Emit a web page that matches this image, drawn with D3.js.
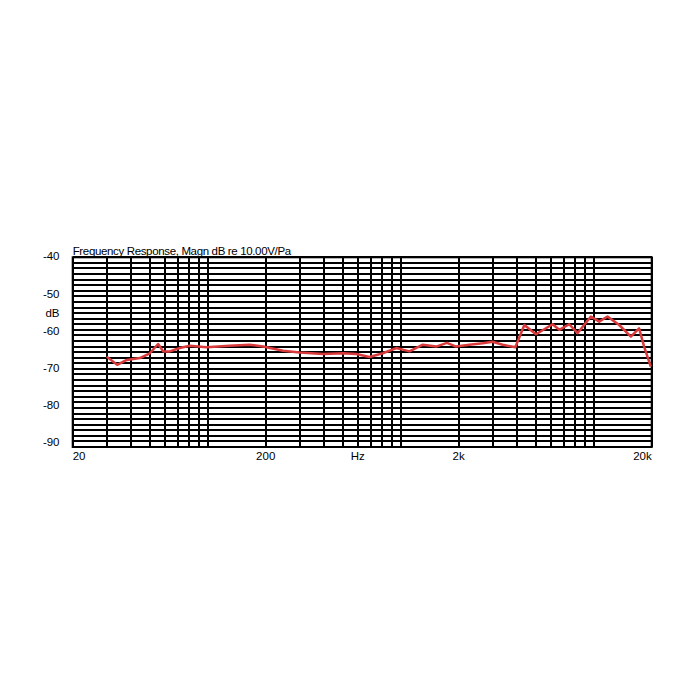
<!DOCTYPE html>
<html>
<head>
<meta charset="utf-8">
<script src="https://cdn.jsdelivr.net/npm/d3@7"></script>
<style>
  html, body { margin: 0; padding: 0; background: #fff; }
  svg { display: block; }
  text { font-family: "Liberation Sans", Arial, sans-serif; fill: #000; }
</style>
</head>
<body>
<svg id="chart" width="700" height="700"></svg>
<script>
// ---- data ----
const freqs = [30.0, 34.0, 38.1, 44.6, 50.2, 55.4, 58.9, 63.7, 71.8, 80.9, 98.7, 130, 165, 194, 246, 300, 396, 502, 589, 690, 809, 949, 1112, 1303, 1528, 1738, 1938, 2272, 2662, 2998, 3378, 3930, 4376, 5030, 6130, 6640, 7478, 8254, 9683, 10690, 11800, 13570, 15600, 17210, 18270, 19780];
const magnitudeDb = [-66.7, -68.9, -67.6, -67.1, -65.8, -63.3, -65.3, -65.3, -64.4, -63.8, -64.2, -63.8, -63.5, -64.0, -65.1, -65.6, -66.0, -65.8, -66.0, -66.8, -65.8, -64.4, -65.3, -63.5, -64.0, -63.0, -64.0, -63.5, -63.1, -62.7, -63.5, -64.2, -58.2, -60.7, -58.0, -59.5, -58.0, -60.4, -55.9, -57.3, -55.9, -58.2, -61.3, -59.1, -64.0, -69.4];
const xGridFreqs = [20, 30, 40, 50, 60, 70, 80, 90, 100, 200, 300, 400, 500, 600, 700, 800, 900, 1000, 2000, 3000, 4000, 5000, 6000, 7000, 8000, 9000, 10000, 20000];
const xTickValues = [20, 200, 2000, 20000];
const xTickLabels = ["20", "200", "2k", "20k"];
const yTickValues = [-40, -50, -60, -70, -80, -90];
const yTickLabels = ["-40", "-50", "-60", "-70", "-80", "-90"];
const yDomain = [-40, -91];
const yGridStep = 1.5;
const titleText = "Frequency Response, Magn dB re 10.00V/Pa";
const yUnit = "dB";
const xUnit = "Hz";

// ---- layout ----
const plotLeft = 72.7, plotRight = 651.7, plotTop = 257.3, plotBottom = 447;
const svg = d3.select("#chart");

const x = d3.scaleLog().domain([20, 20000]).range([plotLeft, plotRight]);
const y = d3.scaleLinear().domain(yDomain).range([plotTop, plotBottom]);

const grid = svg.append("g").attr("stroke", "#000").attr("stroke-width", 2).attr("shape-rendering", "crispEdges");

const yGrid = d3.range(yDomain[0], yDomain[1] - 0.001, -yGridStep);
grid.selectAll("line.h").data(yGrid).join("line")
  .attr("class", "h")
  .attr("x1", plotLeft).attr("x2", plotRight)
  .attr("y1", d => y(d)).attr("y2", d => y(d));

grid.selectAll("line.v").data(xGridFreqs).join("line")
  .attr("class", "v")
  .attr("x1", d => x(d)).attr("x2", d => x(d))
  .attr("y1", plotTop).attr("y2", plotBottom);

svg.append("rect")
  .attr("x", plotLeft).attr("y", plotTop)
  .attr("width", plotRight - plotLeft).attr("height", plotBottom - plotTop)
  .attr("fill", "none").attr("stroke", "#000").attr("stroke-width", 2);

// curve
const line = d3.line().x(d => x(d[0])).y(d => y(d[1])).curve(d3.curveLinear);
svg.append("path")
  .datum(freqs.map((f, i) => [f, magnitudeDb[i]]))
  .attr("d", line)
  .attr("fill", "none")
  .attr("stroke", "#d93a3c")
  .attr("stroke-width", 2.5)
  .attr("stroke-linejoin", "round");

// title
svg.append("text")
  .attr("x", plotLeft).attr("y", 254.5)
  .attr("font-size", 11.5)
  .attr("letter-spacing", -0.35)
  .text(titleText);

// y labels
svg.selectAll("text.yl").data(yTickValues).join("text")
  .attr("class", "yl")
  .attr("x", 59.5)
  .attr("y", d => y(d) - 1)
  .attr("dy", "0.35em")
  .attr("text-anchor", "end")
  .attr("font-size", 11.5)
  .text((d, i) => yTickLabels[i]);

svg.append("text")
  .attr("x", 59.5).attr("y", y(-55)).attr("dy", "0.35em")
  .attr("text-anchor", "end").attr("font-size", 11.5)
  .text(yUnit);

// x labels
svg.selectAll("text.xl").data(xTickValues).join("text")
  .attr("class", "xl")
  .attr("x", d => x(d))
  .attr("y", 460)
  .attr("text-anchor", (d, i) => i === 0 ? "start" : i === xTickValues.length - 1 ? "end" : "middle")
  .attr("font-size", 11.5)
  .text((d, i) => xTickLabels[i]);

svg.append("text")
  .attr("x", x(600)).attr("y", 460)
  .attr("text-anchor", "middle").attr("font-size", 11.5)
  .text(xUnit);
</script>
</body>
</html>
